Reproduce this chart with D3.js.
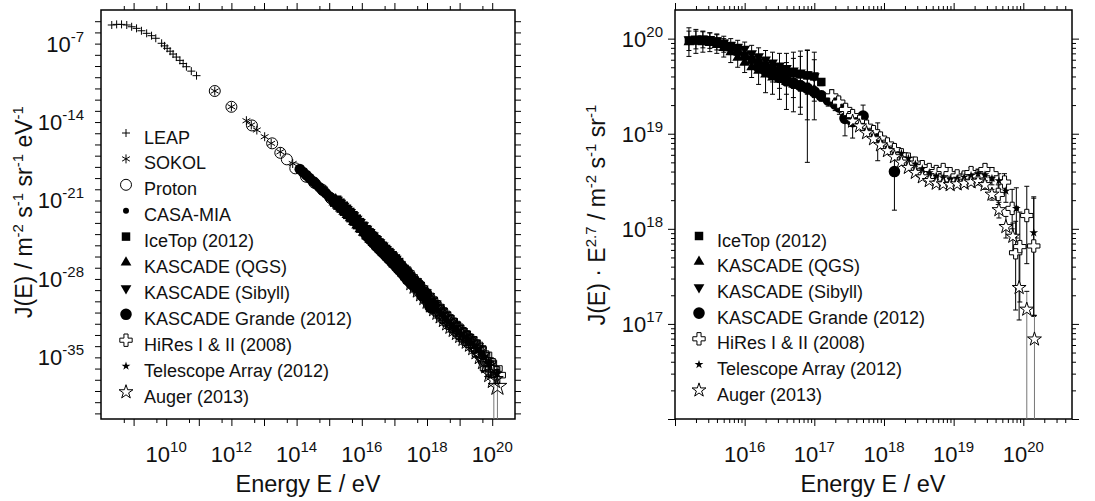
<!DOCTYPE html>
<html>
<head>
<meta charset="utf-8">
<script src="https://cdn.jsdelivr.net/npm/d3@7"></script>
<style>
body { margin: 0; background: #fff; }
svg { font-family: Arial, "Liberation Sans", sans-serif; }
</style>
</head>
<body>
<svg id="chart" width="1095" height="501"></svg>
<script>
// energies are stored as log10(E / eV)

// series only in the left panel: J(E) in m^-2 s^-1 sr^-1 eV^-1
var leapData = [
    [8.33, 4.6e-6], [8.48, 5.2e-6], [8.63, 5.2e-6], [8.79, 4.6e-6], [8.94, 3.2e-6],
    [9.09, 2.3e-6], [9.24, 1.4e-6], [9.40, 8.3e-7], [9.55, 5.1e-7], [9.68, 3.0e-7],
    [9.86, 1.07e-7], [9.95, 6.3e-8], [10.03, 3.8e-8], [10.12, 2.1e-8], [10.21, 1.17e-8],
    [10.31, 6.3e-9], [10.42, 3.2e-9], [10.52, 1.66e-9], [10.62, 8.7e-10], [10.77, 3.5e-10],
    [10.93, 1.38e-10]
];
var sokolData = [
    [11.49, 5.9e-12], [12.00, 2.3e-13], [12.46, 1.32e-14], [12.61, 5.5e-15], [12.78, 1.95e-15],
    [13.02, 4.9e-16], [13.22, 1.26e-16], [13.50, 2.2e-17], [13.88, 2.0e-18]
];
var protonData = [
    [11.49, 5.9e-12], [12.00, 2.3e-13], [12.63, 5.0e-15], [13.25, 1.26e-16], [13.50, 1.8e-17],
    [13.70, 4.7e-18], [13.96, 7.4e-19], [14.29, 1.32e-19], [14.54, 3.9e-20], [14.80, 8.7e-21],
    [15.05, 1.58e-21]
];
var casaData = [
    [14.1, 6.3e-19], [14.2, 3.4e-19], [14.3, 1.82e-19], [14.4, 9.8e-20], [14.5, 5.2e-20],
    [14.6, 2.8e-20], [14.7, 1.51e-20], [14.8, 8.1e-21], [14.9, 4.4e-21], [15.0, 2.3e-21],
    [15.1, 1.26e-21], [15.2, 6.8e-22], [15.3, 3.6e-22], [15.4, 1.95e-22], [15.5, 1.02e-22],
    [15.6, 5.2e-23], [15.7, 2.6e-23], [15.8, 1.32e-23], [15.9, 6.6e-24], [16.0, 3.2e-24],
    [16.1, 1.58e-24], [16.2, 7.8e-25], [16.3, 3.8e-25], [16.4, 1.86e-25], [16.5, 9.1e-26]
];

// series in both panels: J(E)*E^2.7, rows [lgE, value, errLow, errHigh] (errLow 0 = open)
var icetopData = [
    [15.2, 9.5e19, 9.1e19, 9.9e19], [15.3, 9.6e19, 9.2e19, 1.0e20], [15.4, 9.7e19, 9.3e19, 1.01e20],
    [15.5, 9.6e19, 9.2e19, 1.0e20], [15.6, 9.3e19, 8.9e19, 9.7e19], [15.7, 8.8e19, 8.4e19, 9.2e19],
    [15.8, 8.1e19, 7.7e19, 8.5e19], [15.9, 7.3e19, 6.9e19, 7.7e19], [16.0, 6.6e19, 6.3e19, 6.9e19],
    [16.1, 6.0e19, 5.7e19, 6.3e19], [16.2, 5.6e19, 5.3e19, 5.9e19], [16.3, 5.2e19, 4.9e19, 5.5e19],
    [16.4, 4.9e19, 4.6e19, 5.2e19], [16.5, 4.6e19, 4.3e19, 4.9e19], [16.6, 4.4e19, 4.1e19, 4.7e19],
    [16.7, 4.3e19, 4.0e19, 4.6e19], [16.8, 4.2e19, 3.9e19, 4.5e19], [16.9, 4.1e19, 3.8e19, 4.4e19],
    [17.0, 4.0e19, 3.7e19, 4.3e19], [17.1, 3.5e19, 3.2e19, 3.8e19]
];
var kascadeQgsData = [
    [15.2, 9.2e19, 6.5e19, 1.3e20], [15.3, 9.3e19, 7.0e19, 1.25e20], [15.4, 9.2e19, 7.2e19, 1.2e20],
    [15.5, 9.0e19, 7.3e19, 1.15e20], [15.6, 8.6e19, 7.0e19, 1.1e20], [15.7, 8.0e19, 6.4e19, 1.0e20],
    [15.8, 7.2e19, 5.6e19, 9.0e19], [15.9, 6.3e19, 5.0e19, 8.0e19], [16.0, 5.6e19, 4.4e19, 7.2e19],
    [16.1, 5.0e19, 3.9e19, 6.5e19], [16.2, 4.6e19, 3.3e19, 6.2e19], [16.3, 4.2e19, 2.7e19, 6.0e19],
    [16.4, 3.9e19, 2.6e19, 5.6e19], [16.5, 3.7e19, 2.3e19, 5.4e19], [16.6, 3.5e19, 1.8e19, 5.6e19],
    [16.7, 3.3e19, 1.7e19, 6.2e19], [16.8, 3.2e19, 1.6e19, 6.5e19], [16.9, 3.0e19, 5.0e18, 7.5e19],
    [17.0, 2.9e19, 1.4e19, 7.2e19]
];
var kascadeSibyllData = [
    [15.2, 9.8e19, 7.5e19, 1.2e20], [15.3, 1.0e20, 7.8e19, 1.2e20], [15.4, 1.0e20, 8.0e19, 1.18e20],
    [15.5, 9.9e19, 7.9e19, 1.15e20], [15.6, 9.6e19, 7.6e19, 1.12e20], [15.7, 9.1e19, 7.2e19, 1.06e20],
    [15.8, 8.6e19, 6.8e19, 1.0e20], [15.9, 8.2e19, 6.4e19, 9.6e19], [16.0, 7.8e19, 6.0e19, 9.2e19],
    [16.1, 7.0e19, 5.3e19, 8.5e19], [16.2, 6.5e19, 4.6e19, 8.0e19], [16.3, 6.0e19, 4.0e19, 7.5e19],
    [16.4, 5.6e19, 3.5e19, 7.2e19], [16.5, 5.2e19, 3.0e19, 7.0e19], [16.6, 4.9e19, 2.6e19, 7.0e19],
    [16.7, 4.6e19, 2.4e19, 7.2e19], [16.8, 4.4e19, 1.9e19, 7.4e19], [16.9, 4.2e19, 1.4e19, 7.6e19],
    [17.0, 4.0e19, 2.2e19, 6.0e19]
];
var grandeData = [
    [16.2, 5.0e19, 4.6e19, 5.4e19], [16.3, 4.6e19, 4.2e19, 5.0e19], [16.4, 4.2e19, 3.8e19, 4.6e19],
    [16.5, 3.9e19, 3.5e19, 4.3e19], [16.6, 3.6e19, 3.2e19, 4.0e19], [16.7, 3.4e19, 3.0e19, 3.8e19],
    [16.8, 3.2e19, 2.8e19, 3.6e19], [16.9, 3.0e19, 2.6e19, 3.4e19], [17.0, 2.75e19, 2.4e19, 3.1e19],
    [17.1, 2.5e19, 2.2e19, 2.8e19], [17.2, 2.25e19, 1.95e19, 2.55e19], [17.3, 2.05e19, 1.75e19, 2.35e19],
    [17.36, 1.9e19, 1.6e19, 2.2e19], [17.44, 1.45e19, 9.5e18, 1.8e19], [17.55, 1.34e19, 9.0e18, 1.6e19],
    [17.70, 1.53e19, 1.2e19, 2.0e19], [17.91, 9.3e18, 5.2e18, 1.3e19], [18.15, 4.0e18, 1.57e18, 7.3e18]
];
var hiresData = [
    [17.25, 2.5e19, 2.1e19, 2.9e19], [17.35, 2.15e19, 1.9e19, 2.4e19], [17.45, 1.8e19, 1.6e19, 2.0e19],
    [17.55, 1.55e19, 1.4e19, 1.7e19], [17.65, 1.35e19, 1.22e19, 1.48e19], [17.75, 1.2e19, 1.1e19, 1.3e19],
    [17.85, 1.05e19, 9.6e18, 1.14e19], [17.95, 9.0e18, 8.2e18, 9.8e18], [18.05, 7.8e18, 7.1e18, 8.5e18],
    [18.15, 6.8e18, 6.2e18, 7.4e18], [18.25, 6.0e18, 5.5e18, 6.5e18], [18.35, 5.4e18, 4.9e18, 5.9e18],
    [18.45, 4.9e18, 4.5e18, 5.3e18], [18.55, 4.5e18, 4.1e18, 4.9e18], [18.65, 4.2e18, 3.8e18, 4.6e18],
    [18.75, 4.0e18, 3.6e18, 4.4e18], [18.85, 4.2e18, 3.8e18, 4.6e18], [18.95, 3.8e18, 3.4e18, 4.2e18],
    [19.05, 3.6e18, 3.2e18, 4.0e18], [19.15, 3.5e18, 3.1e18, 3.9e18], [19.25, 3.9e18, 3.4e18, 4.4e18],
    [19.35, 3.6e18, 3.1e18, 4.1e18], [19.45, 4.2e18, 3.6e18, 4.8e18], [19.55, 3.8e18, 3.2e18, 4.4e18],
    [19.64, 2.3e18, 1.8e18, 2.9e18], [19.73, 3.1e18, 2.4e18, 3.8e18], [19.84, 1.64e18, 1.0e18, 2.6e18],
    [19.89, 5.6e17, 1.4e17, 1.2e18], [19.95, 6.5e17, 1.7e17, 1.5e18], [20.05, 1.38e18, 4.3e17, 2.8e18],
    [20.15, 6.6e17, 1.2e17, 2.1e18]
];
var taData = [
    [18.25, 6.2e18, 5.8e18, 6.6e18], [18.35, 5.5e18, 5.1e18, 5.9e18], [18.45, 4.8e18, 4.5e18, 5.1e18],
    [18.55, 4.3e18, 4.0e18, 4.6e18], [18.65, 3.9e18, 3.6e18, 4.2e18], [18.75, 3.6e18, 3.3e18, 3.9e18],
    [18.85, 3.45e18, 3.15e18, 3.75e18], [18.95, 3.35e18, 3.05e18, 3.65e18], [19.05, 3.4e18, 3.1e18, 3.7e18],
    [19.15, 3.5e18, 3.15e18, 3.85e18], [19.25, 3.65e18, 3.25e18, 4.05e18], [19.35, 3.8e18, 3.35e18, 4.25e18],
    [19.45, 3.7e18, 3.2e18, 4.2e18], [19.55, 3.4e18, 2.9e18, 3.9e18], [19.65, 3.2e18, 2.6e18, 3.8e18],
    [19.75, 2.5e18, 1.9e18, 3.1e18], [19.9, 1.64e18, 8.0e17, 2.7e18], [20.15, 9.1e17, 1.23e17, 2.17e18]
];
var augerData = [
    [17.55, 1.35e19, 1.28e19, 1.42e19], [17.65, 1.2e19, 1.14e19, 1.26e19], [17.75, 1.02e19, 9.7e18, 1.07e19],
    [17.85, 8.8e18, 8.4e18, 9.2e18], [17.95, 7.6e18, 7.2e18, 8.0e18], [18.05, 6.6e18, 6.3e18, 6.9e18],
    [18.15, 5.7e18, 5.4e18, 6.0e18], [18.25, 5.0e18, 4.8e18, 5.2e18], [18.35, 4.4e18, 4.2e18, 4.6e18],
    [18.45, 3.9e18, 3.7e18, 4.1e18], [18.55, 3.5e18, 3.35e18, 3.65e18], [18.65, 3.2e18, 3.05e18, 3.35e18],
    [18.75, 3.0e18, 2.85e18, 3.15e18], [18.85, 2.95e18, 2.8e18, 3.1e18], [18.95, 2.9e18, 2.75e18, 3.05e18],
    [19.05, 2.95e18, 2.8e18, 3.1e18], [19.15, 3.0e18, 2.8e18, 3.2e18], [19.25, 3.1e18, 2.9e18, 3.3e18],
    [19.35, 3.15e18, 2.9e18, 3.4e18], [19.45, 2.9e18, 2.6e18, 3.2e18], [19.55, 2.3e18, 2.0e18, 2.6e18],
    [19.65, 1.58e18, 1.3e18, 1.9e18], [19.75, 1.05e18, 8.0e17, 1.35e18], [19.85, 8.3e17, 5.6e17, 1.15e18],
    [19.94, 2.4e17, 1.1e17, 5.8e17], [20.05, 1.42e17, 0, 2.2e17], [20.16, 6.9e16, 0, 1.23e17]
];

// tick labels (exponents of ten)
var leftXLabels = [10, 12, 14, 16, 18, 20];
var leftYLabels = [-7, -14, -21, -28, -35];
var rightXLabels = [16, 17, 18, 19, 20];
var rightYLabels = [17, 18, 19, 20];

// legend names
var leftLegend = ["LEAP", "SOKOL", "Proton", "CASA-MIA", "IceTop (2012)", "KASCADE (QGS)",
    "KASCADE (Sibyll)", "KASCADE Grande (2012)", "HiRes I & II (2008)", "Telescope Array (2012)", "Auger (2013)"];
var rightLegend = ["IceTop (2012)", "KASCADE (QGS)", "KASCADE (Sibyll)", "KASCADE Grande (2012)",
    "HiRes I & II (2008)", "Telescope Array (2012)", "Auger (2013)"];

// marker styles
var markers = {
    leap:   {d: "M-4,0H4M0,-4V4", fill: "none", stroke: "#000"},
    sokol:  {d: "M0,-4.5V4.5M-3.9,-2.25L3.9,2.25M-3.9,2.25L3.9,-2.25", fill: "none", stroke: "#000"},
    proton: {d: d3.symbol(d3.symbolCircle, 95)(), fill: "none", stroke: "#000"},
    casa:   {d: d3.symbol(d3.symbolCircle, 28)(), fill: "#000", stroke: "none"},
    icetop: {d: d3.symbol(d3.symbolSquare, 72)(), fill: "#000", stroke: "none"},
    qgs:    {d: d3.symbol(d3.symbolTriangle, 50)(), fill: "#000", stroke: "none"},
    sibyll: {d: d3.symbol(d3.symbolTriangle, 50)(), fill: "#000", stroke: "none", rot: 180},
    grande: {d: d3.symbol(d3.symbolCircle, 105)(), fill: "#000", stroke: "none"},
    hires:  {d: d3.symbol(d3.symbolCross, 85)(), fill: "#fff", stroke: "#000"},
    ta:     {d: d3.symbol(d3.symbolStar, 24)(), fill: "#000", stroke: "none"},
    auger:  {d: d3.symbol(d3.symbolStar, 60)(), fill: "#fff", stroke: "#000"}
};

var leftSeries = [
    {key: "leap", rows: leapData, scaled: false},
    {key: "sokol", rows: sokolData, scaled: false},
    {key: "proton", rows: protonData, scaled: false},
    {key: "casa", rows: casaData, scaled: false},
    {key: "icetop", rows: icetopData, scaled: true},
    {key: "qgs", rows: kascadeQgsData, scaled: true},
    {key: "sibyll", rows: kascadeSibyllData, scaled: true},
    {key: "grande", rows: grandeData, scaled: true},
    {key: "hires", rows: hiresData, scaled: true},
    {key: "ta", rows: taData, scaled: true},
    {key: "auger", rows: augerData, scaled: true}
];
var rightSeries = leftSeries.slice(4);

// on the left the hollow markers sit under the filled ones
var leftDrawOrder = ["leap", "hires", "auger", "sokol", "proton", "casa", "icetop", "qgs", "sibyll", "grande", "ta"];

var svg = d3.select("#chart");

// panel boxes
var boxL = {x0: 101, x1: 515, y0: 10, y1: 419};
var boxR = {x0: 675, x1: 1072, y0: 10, y1: 419};

var xL = d3.scaleLog().domain([1e8, 5e20]).range([boxL.x0, boxL.x1]);
var yL = d3.scaleLog().domain([Math.pow(10, -40.5), 1e-4]).range([boxL.y1, boxL.y0]);
var xR = d3.scaleLog().domain([1e15, 5e20]).range([boxR.x0, boxR.x1]);
var yR = d3.scaleLog().domain([1e16, 2e20]).range([boxR.y1, boxR.y0]);

// J from J*E^2.7
const toJ = (v, E) => v / Math.pow(E, 2.7);

const markerPath = (g, key, cx, cy, scale, noFill) => {
    let m = markers[key];
    let tf = "translate(" + cx + "," + cy + ")";
    if (scale && scale != 1) tf += " scale(" + scale + ")";
    if (m.rot) tf += " rotate(" + m.rot + ")";
    g.append("path")
        .attr("d", m.d)
        .attr("transform", tf)
        .attr("fill", (noFill && m.fill == "#fff") ? "none" : m.fill)
        .attr("stroke", m.stroke)
        .attr("stroke-width", scale ? 1 / scale : 1);
}

const drawSeries = (g, series, x, y, box, leftPanel, order, scaleFor) => {
    series.forEach(s => {
        // error bars first
        s.rows.forEach(r => {
            if (r.length < 4) return;
            let E = Math.pow(10, r[0]);
            let conv = (v) => (leftPanel && s.scaled) ? toJ(v, E) : v;
            let cx = x(E);
            let yHi = y(conv(r[3]));
            let open = r[2] <= 0;
            let yLo = open ? box.y1 + 2 : y(conv(r[2]));
            g.append("line").attr("x1", cx).attr("x2", cx).attr("y1", yLo).attr("y2", yHi)
                .attr("stroke", open ? "#777" : "#000").attr("stroke-width", 1);
            g.append("line").attr("x1", cx - 2.5).attr("x2", cx + 2.5).attr("y1", yHi).attr("y2", yHi)
                .attr("stroke", "#000").attr("stroke-width", 1);
            if (!open) {
                g.append("line").attr("x1", cx - 2.5).attr("x2", cx + 2.5).attr("y1", yLo).attr("y2", yLo)
                    .attr("stroke", "#000").attr("stroke-width", 1);
            }
        });
    });
    order.forEach(key => {
        let s = series.find(d => d.key == key);
        if (!s) return;
        s.rows.forEach(r => {
            let E = Math.pow(10, r[0]);
            let v = (leftPanel && s.scaled) ? toJ(r[1], E) : r[1];
            markerPath(g, s.key, x(E), y(v), scaleFor(key), leftPanel);
        });
    });
}

const drawAxes = (g, x, y, box, xMajor, xMinor, yMajor, yMinor, yMajorLen) => {
    const strip = sel => { sel.select(".domain").remove(); sel.selectAll("text").remove(); };
    const put = (axis, tx, ty) => g.append("g").attr("transform", "translate(" + tx + "," + ty + ")")
        .call(axis).call(strip).selectAll("line").attr("stroke", "#000").attr("stroke-width", 1);

    put(d3.axisBottom(x).tickValues(xMajor).tickSize(7).tickFormat(""), 0, box.y1);
    put(d3.axisBottom(x).tickValues(xMinor).tickSize(4).tickFormat(""), 0, box.y1);
    put(d3.axisTop(x).tickValues(xMajor).tickSize(7).tickFormat(""), 0, box.y0);
    put(d3.axisTop(x).tickValues(xMinor).tickSize(4).tickFormat(""), 0, box.y0);
    put(d3.axisLeft(y).tickValues(yMajor).tickSize(yMajorLen).tickFormat(""), box.x0, 0);
    put(d3.axisLeft(y).tickValues(yMinor).tickSize(4).tickFormat(""), box.x0, 0);
    put(d3.axisRight(y).tickValues(yMajor).tickSize(yMajorLen).tickFormat(""), box.x1, 0);
    put(d3.axisRight(y).tickValues(yMinor).tickSize(4).tickFormat(""), box.x1, 0);

    g.append("rect")
        .attr("x", box.x0).attr("y", box.y0)
        .attr("width", box.x1 - box.x0).attr("height", box.y1 - box.y0)
        .attr("fill", "none").attr("stroke", "#000").attr("stroke-width", 1.5);
}

const powLabel = (g, x, y, exp, anchor) => {
    let t = g.append("text").attr("x", x).attr("y", y).attr("text-anchor", anchor)
        .attr("font-size", 22).attr("fill", "#111");
    t.append("tspan").text("10");
    t.append("tspan").attr("font-size", 15).attr("dy", -10).text(exp);
}

const drawLegend = (g, names, keys, sx, tx, y0, step) => {
    names.forEach((name, i) => {
        let cy = y0 + i * step;
        markerPath(g, keys[i], sx, cy - 4);
        g.append("text").attr("x", tx).attr("y", cy + 6.5)
            .attr("font-size", 18).attr("fill", "#111").text(name);
    });
}

// ---------- left panel ----------
let gL = svg.append("g");
svg.append("clipPath").attr("id", "clipL").append("rect")
    .attr("x", boxL.x0).attr("y", boxL.y0).attr("width", boxL.x1 - boxL.x0).attr("height", boxL.y1 - boxL.y0);

let lxMajor = d3.range(9, 21).map(e => Math.pow(10, e));
let lxMinor = d3.range(8, 21).map(e => 5 * Math.pow(10, e)).filter(v => v < 5e20);
let lyMajor = d3.range(-40, -4).map(e => Math.pow(10, e));
drawAxes(gL, xL, yL, boxL, lxMajor, lxMinor, lyMajor, [], 6);

let dataL = gL.append("g").attr("clip-path", "url(#clipL)");
// markers of the dense band are drawn larger on the left
const leftScale = key => ["leap", "sokol", "proton"].indexOf(key) >= 0 ? 1 : (key == "casa" ? 1.8 : 1.35);
drawSeries(dataL, leftSeries, xL, yL, boxL, true, leftDrawOrder, leftScale);

leftXLabels.forEach(e => powLabel(gL, xL(Math.pow(10, e)), 462, e, "middle"));
leftYLabels.forEach(e => powLabel(gL, 84, yL(Math.pow(10, e)) + 8, e, "end"));

drawLegend(gL, leftLegend, leftSeries.map(s => s.key), 126, 144, 137, 25.9);

gL.append("text").attr("x", 308).attr("y", 492).attr("text-anchor", "middle")
    .attr("font-size", 23.5).attr("fill", "#111").text("Energy E / eV");

let ytL = gL.append("text").attr("transform", "translate(32,212) rotate(-90)")
    .attr("text-anchor", "middle").attr("font-size", 23).attr("fill", "#111");
ytL.append("tspan").text("J(E) / m");
ytL.append("tspan").attr("font-size", 15).attr("dy", -9).text("-2");
ytL.append("tspan").attr("dy", 9).text(" s");
ytL.append("tspan").attr("font-size", 15).attr("dy", -9).text("-1");
ytL.append("tspan").attr("dy", 9).text(" sr");
ytL.append("tspan").attr("font-size", 15).attr("dy", -9).text("-1");
ytL.append("tspan").attr("dy", 9).text(" eV");
ytL.append("tspan").attr("font-size", 15).attr("dy", -9).text("-1");

// ---------- right panel ----------
let gR = svg.append("g");
svg.append("clipPath").attr("id", "clipR").append("rect")
    .attr("x", boxR.x0).attr("y", boxR.y0).attr("width", boxR.x1 - boxR.x0).attr("height", boxR.y1 - boxR.y0);

let rxMajor = d3.range(15, 21).map(e => Math.pow(10, e));
let rxMinor = [];
d3.range(15, 21).forEach(e => d3.range(2, 10).forEach(m => {
    let v = m * Math.pow(10, e);
    if (v < 5e20) rxMinor.push(v);
}));
let ryMajor = d3.range(16, 21).map(e => Math.pow(10, e));
let ryMinor = [];
d3.range(16, 21).forEach(e => d3.range(2, 10).forEach(m => {
    let v = m * Math.pow(10, e);
    if (v < 2e20) ryMinor.push(v);
}));
drawAxes(gR, xR, yR, boxR, rxMajor, rxMinor, ryMajor, ryMinor, 7);

let dataR = gR.append("g").attr("clip-path", "url(#clipR)");
drawSeries(dataR, rightSeries, xR, yR, boxR, false, rightSeries.map(s => s.key), () => 1);

rightXLabels.forEach(e => powLabel(gR, xR(Math.pow(10, e)), 462, e, "middle"));
rightYLabels.forEach(e => powLabel(gR, 663, yR(Math.pow(10, e)) + 8, e, "end"));

drawLegend(gR, rightLegend, rightSeries.map(s => s.key), 699, 717, 240, 25.7);

gR.append("text").attr("x", 873).attr("y", 492).attr("text-anchor", "middle")
    .attr("font-size", 23.5).attr("fill", "#111").text("Energy E / eV");

let ytR = gR.append("text").attr("transform", "translate(605,215) rotate(-90)")
    .attr("text-anchor", "middle").attr("font-size", 23).attr("fill", "#111");
ytR.append("tspan").text("J(E) \u00b7 E");
ytR.append("tspan").attr("font-size", 15).attr("dy", -9).text("2.7");
ytR.append("tspan").attr("dy", 9).text(" / m");
ytR.append("tspan").attr("font-size", 15).attr("dy", -9).text("-2");
ytR.append("tspan").attr("dy", 9).text(" s");
ytR.append("tspan").attr("font-size", 15).attr("dy", -9).text("-1");
ytR.append("tspan").attr("dy", 9).text(" sr");
ytR.append("tspan").attr("font-size", 15).attr("dy", -9).text("-1");
</script>
</body>
</html>
